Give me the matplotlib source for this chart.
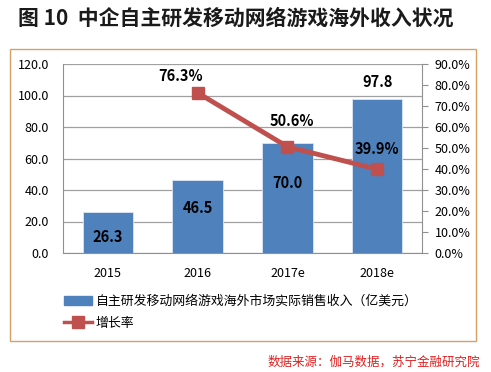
import matplotlib
matplotlib.use("Agg")
import matplotlib.pyplot as plt
from matplotlib.patches import Rectangle
from matplotlib.ticker import FuncFormatter, MultipleLocator
from matplotlib.lines import Line2D
from matplotlib.patches import Patch

plt.rcParams['font.family'] = ['Noto Sans CJK SC', 'DejaVu Sans']

years = ["2015", "2016", "2017e", "2018e"]
revenue = [26.3, 46.5, 70.0, 97.8]
growth_years = ["2016", "2017e", "2018e"]
growth = [76.3, 50.6, 39.9]

title = "图 10  中企自主研发移动网络游戏海外收入状况"
bar_label = "自主研发移动网络游戏海外市场实际销售收入（亿美元）"
line_label = "增长率"
source = "数据来源：伽马数据，苏宁金融研究院"

W, H = 491, 372
fig = plt.figure(figsize=(W / 100, H / 100), dpi=100)

# frame
fig.patches.append(Rectangle((10 / W, 1 - 341 / H), 466 / W, 292 / H,
                             transform=fig.transFigure, fill=False,
                             edgecolor="#D9A066", linewidth=1.0))

ax = fig.add_axes([63 / W, 1 - 253 / H, 359 / W, 189 / H])
bar_color = "#4F81BD"
line_color = "#C0504D"

x = list(range(len(years)))
ax.bar(x, revenue, width=0.56, color=bar_color, edgecolor="#DCE6F2",
       linewidth=0.6, zorder=2)
ax.set_xlim(-0.5, len(years) - 0.5)
ax.set_ylim(0, 120)
ax.yaxis.set_major_locator(MultipleLocator(20))
ax.yaxis.set_major_formatter(FuncFormatter(lambda v, p: f"{v:.1f}"))
ax.set_xticks(x)
ax.set_xticklabels(years)
ax.grid(axis="y", color="#A0A0A0", linewidth=0.9, zorder=0)
ax.set_axisbelow(True)
for s in ["top", "right"]:
    ax.spines[s].set_visible(False)
for s in ["left", "bottom"]:
    ax.spines[s].set_color("#909090")
ax.tick_params(axis="both", length=0, labelsize=9)
ax.tick_params(axis="x", pad=10)
ax.tick_params(axis="y", pad=10)

ax2 = ax.twinx()
ax2.set_ylim(0, 90)
ax2.yaxis.set_major_locator(MultipleLocator(10))
ax2.yaxis.set_major_formatter(FuncFormatter(lambda v, p: f"{v:.1f}%"))
for s in ["top", "left", "bottom"]:
    ax2.spines[s].set_visible(False)
ax2.spines["right"].set_color("#909090")
ax2.tick_params(axis="y", length=4, color="#909090", direction="out",
                labelsize=9, pad=5)

gx = [years.index(g) for g in growth_years]
ax2.plot(gx, growth, color=line_color, linewidth=3.5, marker="s",
         markersize=9, zorder=3)

# bar labels (offsets in points from bar top)
bar_offsets = [-18, -20, -29, 12]
for xi, v, off in zip(x, revenue, bar_offsets):
    ax.annotate(f"{v:.1f}", (xi, v), xytext=(0, off), textcoords="offset points",
                ha="center", va="center",
                fontsize=10.5, fontweight="bold", color="black", zorder=5)

growth_offsets = [(-12, 12), (3, 18.5), (0, 14.5)]
for xi, v, off in zip(gx, growth, growth_offsets):
    ax2.annotate(f"{v:.1f}%", (xi, v), xytext=off, textcoords="offset points",
                 ha="center", va="center", fontsize=10.5, fontweight="bold",
                 color="black", zorder=5)

fig.text(18 / W, 1 - 18 / H, title, fontsize=15, fontweight="bold",
         va="center", ha="left", color="#1a1a1a")

handles = [Patch(color=bar_color),
           Line2D([0], [0], color=line_color, linewidth=2.5, marker="s", markersize=8)]
fig.legend(handles, [bar_label, line_label], loc="upper left",
           bbox_to_anchor=(52 / W, 1 - 283 / H), frameon=False, fontsize=9.3,
           handlelength=2.2, labelspacing=0.7, handletextpad=0.3)

fig.text(480 / W, 1 - 362 / H, source, fontsize=9, color="#E02020",
         style="italic", ha="right", va="center")

fig.savefig("out.png", dpi=100)
